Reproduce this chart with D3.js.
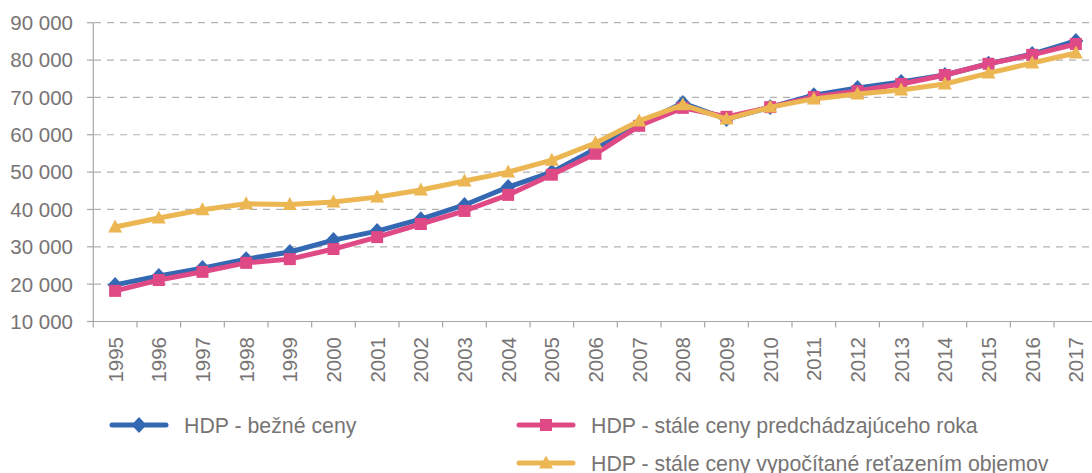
<!DOCTYPE html>
<html>
<head>
<meta charset="utf-8">
<script src="https://cdn.jsdelivr.net/npm/d3@7"></script>
<style>
  html, body { margin: 0; padding: 0; background: #fff; overflow: hidden; }
  svg { display: block; font-family: "Liberation Sans", Arial, sans-serif; }
</style>
</head>
<body>
<div id="chart"></div>
<script>
"use strict";

// years on the x axis
var years = ["1995","1996","1997","1998","1999","2000","2001","2002","2003","2004","2005",
             "2006","2007","2008","2009","2010","2011","2012","2013","2014","2015","2016","2017"];

// HDP - bezne ceny
var bezneCeny = [19800,22200,24300,26700,28600,31800,34200,37400,41200,46000,50000,
                 56200,62900,68500,64200,67400,70600,72500,74100,76000,79000,81600,85100];
// HDP - stale ceny predchadzajuceho roka
var staleCenyPredch = [18200,21100,23300,25700,26700,29400,32600,36100,39600,43900,49300,
                       54900,62400,67200,64800,67400,70100,71700,73600,76000,79000,81400,84300];
// HDP - stale ceny vypocitane retazenim objemov
var retazene = [35300,37700,39900,41500,41300,42000,43300,45200,47600,50000,53200,
                57800,63700,68000,64200,67400,69600,70900,72000,73600,76500,79200,81900];

var yTicks = [10000,20000,30000,40000,50000,60000,70000,80000,90000];

var seriesNames = ["HDP - bežné ceny",
                   "HDP - stále ceny predchádzajúceho roka",
                   "HDP - stále ceny vypočítané reťazením objemov"];

var W = 1092, H = 473;
var grey = "#777474", axisGrey = "#a6a6a6";

var series = [
    { name: seriesNames[0], values: bezneCeny, color: "#3568b3", marker: "diamond" },
    { name: seriesNames[1], values: staleCenyPredch, color: "#df4a86", marker: "square" },
    { name: seriesNames[2], values: retazene, color: "#ecb652", marker: "triangle" }
];

var svg = d3.select("#chart").append("svg")
    .attr("width", W)
    .attr("height", H);

var x = d3.scaleBand().domain(years).range([93.3, 1097.7]).padding(0);
var y = d3.scaleLinear().domain([10000, 90000]).range([321.5, 22.7]);

function fmt(v) { return d3.format(",")(v).replace(/,/g, " "); }

// dashed gridlines
svg.append("g").selectAll("line")
    .data(yTicks.filter(function(d){ return d > 10000; }))
    .enter().append("line")
    .attr("x1", 94).attr("x2", 1092)
    .attr("y1", function(d){ return y(d); })
    .attr("y2", function(d){ return y(d); })
    .attr("stroke", "#b3b3b3")
    .attr("stroke-width", 1.2)
    .attr("stroke-dasharray", "7,6");

// y axis
var yAxis = svg.append("g");
yAxis.append("line")
    .attr("x1", 93.3).attr("x2", 93.3)
    .attr("y1", y(90000)).attr("y2", y(10000))
    .attr("stroke", axisGrey).attr("stroke-width", 1.2);
yAxis.selectAll("line.tick")
    .data(yTicks).enter().append("line")
    .attr("class", "tick")
    .attr("x1", 87).attr("x2", 93.3)
    .attr("y1", function(d){ return y(d); })
    .attr("y2", function(d){ return y(d); })
    .attr("stroke", axisGrey).attr("stroke-width", 1.2);
yAxis.selectAll("text")
    .data(yTicks).enter().append("text")
    .attr("x", 73)
    .attr("y", function(d){ return y(d); })
    .attr("dy", "0.36em")
    .attr("text-anchor", "end")
    .attr("font-size", 20.5)
    .attr("fill", grey)
    .text(fmt);

// x axis
var xAxis = svg.append("g");
xAxis.append("line")
    .attr("x1", 87).attr("x2", 1092)
    .attr("y1", y(10000)).attr("y2", y(10000))
    .attr("stroke", axisGrey).attr("stroke-width", 1.2);
xAxis.selectAll("line.tick")
    .data(years.concat(["end"])).enter().append("line")
    .attr("class", "tick")
    .attr("x1", function(d, i){ return x.range()[0] + i * x.step(); })
    .attr("x2", function(d, i){ return x.range()[0] + i * x.step(); })
    .attr("y1", y(10000)).attr("y2", y(10000) + 6)
    .attr("stroke", axisGrey).attr("stroke-width", 1.2);
xAxis.selectAll("text")
    .data(years).enter().append("text")
    .attr("transform", function(d){
        return "translate(" + (x(d) + x.bandwidth() / 2) + ",337) rotate(-90)";
    })
    .attr("dy", "0.36em")
    .attr("text-anchor", "end")
    .attr("font-size", 20.5)
    .attr("fill", grey)
    .text(function(d){ return d; });

// marker shapes
function markerPath(type) {
    if (type === "diamond") return "M0,-8L7.5,0L0,8L-7.5,0Z";
    if (type === "square") return "M-6,-6H6V6H-6Z";
    return "M0,-7.5L7,5.5L-7,5.5Z";
}

var line = d3.line()
    .x(function(d, i){ return x(years[i]) + x.bandwidth() / 2; })
    .y(function(d){ return y(d); });

series.forEach(function(s){
    var g = svg.append("g");
    g.append("path")
        .datum(s.values)
        .attr("d", line)
        .attr("fill", "none")
        .attr("stroke", s.color)
        .attr("stroke-width", 5)
        .attr("stroke-linejoin", "round");
    g.selectAll("path.m")
        .data(s.values).enter().append("path")
        .attr("class", "m")
        .attr("d", markerPath(s.marker))
        .attr("transform", function(d, i){
            return "translate(" + (x(years[i]) + x.bandwidth() / 2) + "," + y(d) + ")";
        })
        .attr("fill", s.color);
});

// legend
var legendPos = [
    { x: 112, y: 425 },
    { x: 519, y: 425 },
    { x: 519, y: 463 }
];
series.forEach(function(s, i){
    var p = legendPos[i];
    var g = svg.append("g").attr("transform", "translate(" + p.x + "," + p.y + ")");
    g.append("line")
        .attr("x1", 0).attr("x2", 54)
        .attr("stroke", s.color)
        .attr("stroke-width", 5)
        .attr("stroke-linecap", "round");
    g.append("path")
        .attr("d", markerPath(s.marker))
        .attr("transform", "translate(27,0)")
        .attr("fill", s.color);
    g.append("text")
        .attr("x", 72)
        .attr("dy", "0.36em")
        .attr("font-size", 21.3)
        .attr("fill", grey)
        .text(s.name);
});
</script>
</body>
</html>
